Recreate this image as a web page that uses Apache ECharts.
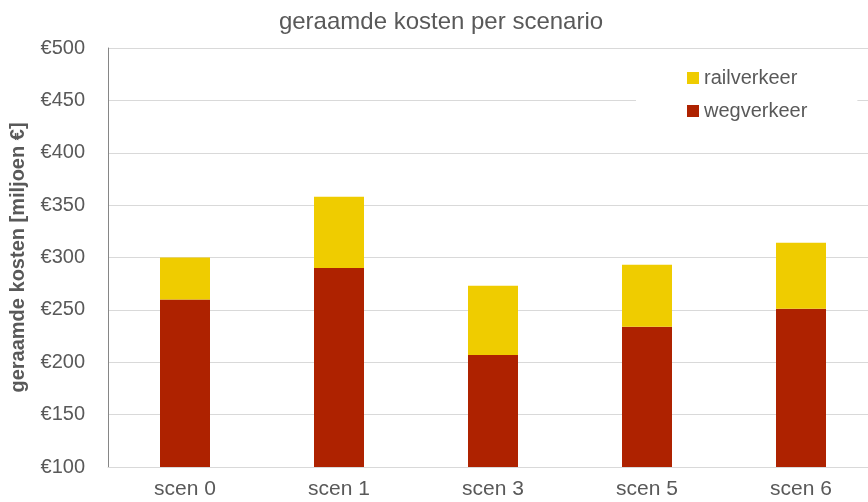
<!DOCTYPE html>
<html>
<head>
<meta charset="utf-8">
<script src="https://cdn.jsdelivr.net/npm/echarts@6/dist/echarts.min.js"></script>
<style>
  html, body { margin: 0; padding: 0; background: #fff; overflow: hidden; }
  #chart { width: 880px; height: 502px; }
</style>
</head>
<body>
<div id="chart"></div>
<script>
var categories = ["scen 0", "scen 1", "scen 3", "scen 5", "scen 6"];
var wegverkeer = [260, 290, 207, 234, 251];
var railverkeer = [40, 68, 66, 59, 63];

// the plot runs past the right edge of the 868px window, so the div is a bit wider
var chart = echarts.init(document.getElementById("chart"));
var font = "Liberation Sans, Arial, sans-serif";

var option = {
    animation: false,
    textStyle: { fontFamily: font },
    title: {
        text: "geraamde kosten per scenario",
        left: 436,
        textAlign: "center",
        top: 5,
        textStyle: { fontFamily: font, fontSize: 24, fontWeight: "normal", color: "#595959" }
    },
    legend: {
        orient: "vertical",
        left: 636,
        top: 56,
        backgroundColor: "#fff",
        padding: [12, 50, 12, 51],
        itemWidth: 12,
        itemHeight: 12,
        itemGap: 13,
        icon: "rect",
        data: ["railverkeer", "wegverkeer"],
        textStyle: { fontFamily: font, fontSize: 20, color: "#595959" }
    },
    grid: { left: 107, right: 2, top: 48, bottom: 35 },
    xAxis: {
        type: "category",
        data: categories,
        axisLine: { lineStyle: { color: "#d9d9d9" } },
        axisTick: { show: false },
        axisLabel: { fontSize: 21, color: "#595959", margin: 12 }
    },
    yAxis: {
        type: "value",
        min: 100,
        max: 500,
        interval: 50,
        name: "geraamde kosten [miljoen €]",
        nameLocation: "middle",
        nameGap: 80,
        nameTextStyle: { fontSize: 20, fontWeight: "bold", color: "#595959" },
        axisLine: { show: true, lineStyle: { color: "#868686" } },
        axisTick: { show: false },
        axisLabel: {
            fontSize: 20, color: "#595959", margin: 23,
            formatter: function (v) { return "€" + v; }
        },
        splitLine: { lineStyle: { color: "#d9d9d9" } }
    },
    series: [
        {
            name: "wegverkeer",
            type: "bar",
            stack: "total",
            barWidth: 50,
            data: wegverkeer,
            itemStyle: { color: "#ae2200" }
        },
        {
            name: "railverkeer",
            type: "bar",
            stack: "total",
            barWidth: 50,
            data: railverkeer,
            itemStyle: { color: "#efcc00" }
        }
    ]
};

chart.setOption(option);
</script>
</body>
</html>
